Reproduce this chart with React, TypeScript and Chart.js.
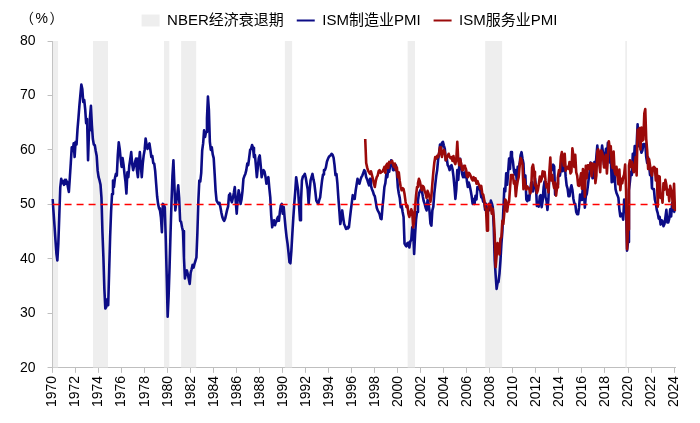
import { useEffect, useRef } from "react";
import { Chart, registerables } from "chart.js";

Chart.register(...registerables);

// ---- data -------------------------------------------------------------
// first month of the series (category axis, one category per month)
const START_YEAR = 1970;
const START_MONTH = 5;

// ISM Manufacturing PMI, monthly, from 1970-05
const ISM_MFG: number[] = [
  51.0, 48.6, 46.1, 43.5, 41.0, 39.7, 42.8, 47.9, // 1970 May-Dec
  53.1, 54.7, 53.9, 54.3, 53.6, 54.5, 53.8, 54.2, 53.2, 52.3, 54.9, 57.6, // 1971
  60.5, 59.8, 61.2, 58.7, 61.5, 61.0, 63.8, 65.9, 68.2, 70.1, 72.0, 71.2, // 1972
  68.8, 69.2, 67.5, 64.9, 65.7, 58.1, 63.6, 66.0, 68.1, 64.5, 62.0, 61.0, // 1973
  60.9, 59.8, 58.9, 56.2, 55.0, 54.4, 53.6, 51.2, 44.9, 40.3, 34.5, 30.9, // 1974
  31.2, 32.6, 31.5, 37.8, 44.0, 48.6, 51.9, 54.4, 53.2, 54.8, 55.6, 55.3, // 1975
  59.0, 61.4, 60.2, 58.3, 56.9, 58.5, 57.3, 55.6, 54.2, 52.0, 55.9, 55.0, // 1976
  57.1, 58.3, 59.6, 57.4, 56.3, 57.0, 57.8, 58.4, 56.2, 55.0, 57.5, 59.6, // 1977
  57.2, 55.0, 57.4, 59.0, 60.0, 62.1, 61.0, 60.2, 60.8, 61.2, 60.0, 58.7, // 1978
  58.9, 57.6, 57.5, 56.1, 53.8, 51.5, 50.1, 49.3, 48.9, 47.6, 44.9, 50.1, // 1979
  49.9, 49.5, 43.8, 36.9, 29.4, 33.2, 38.5, 44.7, 50.3, 55.2, 58.1, 53.6, // 1980
  48.9, 50.4, 51.8, 53.5, 51.2, 47.0, 46.8, 45.8, 45.1, 40.2, 36.4, 37.5, // 1981
  37.9, 37.2, 36.3, 35.4, 37.5, 38.1, 38.9, 38.4, 39.1, 39.7, 40.3, 44.8, // 1982
  50.6, 54.4, 54.2, 55.8, 59.9, 61.2, 63.6, 62.4, 63.3, 65.8, 69.8, 67.3, // 1983
  61.5, 60.0, 60.5, 59.2, 58.5, 55.6, 52.5, 50.7, 50.4, 50.1, 50.3, 49.5, // 1984
  48.5, 47.7, 47.2, 47.0, 47.4, 48.2, 49.0, 49.6, 51.7, 52.0, 50.9, 50.4, // 1985
  51.2, 52.1, 53.2, 50.5, 48.3, 50.9, 52.6, 51.7, 50.1, 50.9, 52.4, 54.7, // 1986
  55.2, 55.6, 56.3, 57.5, 57.2, 58.6, 60.0, 60.2, 60.9, 60.4, 58.7, 59.1, // 1987
  57.1, 55.0, 56.8, 58.5, 59.0, 57.2, 55.0, 55.8, 56.3, 56.0, 55.1, 53.8, // 1988
  54.5, 55.0, 53.0, 51.3, 47.9, 45.8, 46.5, 47.1, 46.2, 46.9, 47.3, 47.7, // 1989
  47.0, 48.6, 49.8, 50.1, 48.3, 49.5, 47.5, 45.6, 44.0, 42.8, 41.2, 39.4, // 1990
  39.2, 41.5, 44.6, 47.5, 50.1, 52.3, 55.0, 53.8, 52.6, 49.8, 47.1, 50.5, // 1991
  54.4, 55.1, 55.3, 55.6, 54.9, 53.8, 52.8, 50.1, 52.4, 54.4, 55.0, 55.6, // 1992
  54.6, 53.8, 52.3, 50.7, 50.4, 50.1, 50.8, 51.3, 52.9, 54.4, 55.5, 56.3, // 1993
  56.3, 56.8, 57.8, 58.3, 58.7, 58.9, 59.0, 59.3, 59.1, 58.6, 57.2, 55.4, // 1994
  55.6, 53.8, 51.2, 48.9, 46.4, 47.5, 48.9, 47.6, 46.4, 46.0, 45.5, 45.6, // 1995
  45.9, 45.8, 47.4, 48.9, 50.3, 51.7, 51.3, 51.0, 52.5, 53.6, 54.7, 54.1, // 1996
  53.8, 54.5, 55.0, 55.3, 55.8, 56.3, 56.0, 55.0, 54.6, 54.0, 53.5, 54.7, // 1997
  53.4, 52.8, 52.4, 51.8, 51.5, 50.5, 49.4, 48.9, 48.6, 48.2, 47.4, 47.3, // 1998
  49.5, 51.2, 53.2, 53.9, 55.6, 55.0, 56.4, 56.0, 57.2, 58.1, 57.6, 56.3, // 1999
  57.0, 56.5, 57.2, 55.8, 53.2, 52.0, 51.2, 49.5, 49.8, 48.6, 47.7, 42.8, // 2000
  42.5, 42.3, 42.9, 43.0, 42.1, 43.2, 43.5, 45.8, 45.2, 40.9, 44.5, 47.2, // 2001
  48.6, 50.7, 52.0, 52.4, 52.8, 52.6, 51.5, 50.6, 50.1, 49.4, 48.9, 50.8, // 2002
  50.2, 48.8, 46.5, 46.1, 48.9, 49.6, 52.0, 53.6, 55.2, 56.3, 58.2, 59.3, // 2003
  61.0, 60.0, 61.3, 61.5, 60.8, 60.2, 58.1, 58.5, 57.2, 56.9, 56.3, 57.0, // 2004
  57.2, 56.5, 55.2, 53.3, 51.0, 52.8, 56.3, 54.5, 57.0, 58.4, 57.2, 55.6, // 2005
  55.0, 55.8, 55.0, 56.3, 54.3, 53.2, 54.0, 53.4, 52.5, 51.5, 50.1, 51.0, // 2006
  50.1, 51.6, 50.9, 53.2, 52.8, 53.4, 52.5, 51.3, 51.3, 50.5, 50.6, 49.0, // 2007
  50.1, 48.9, 49.3, 48.9, 49.6, 50.7, 50.2, 49.5, 45.8, 39.8, 37.0, 34.5, // 2008
  35.6, 35.8, 37.3, 39.7, 42.8, 45.0, 48.9, 52.9, 52.4, 55.7, 53.6, 55.9, // 2009
  58.4, 56.5, 59.6, 58.8, 57.9, 56.2, 55.5, 56.3, 54.4, 56.9, 56.6, 57.5, // 2010
  59.0, 59.6, 58.4, 57.5, 53.5, 55.3, 50.9, 50.6, 51.6, 50.8, 52.7, 53.9, // 2011
  54.1, 52.4, 53.4, 54.8, 53.5, 49.7, 49.8, 49.6, 51.5, 51.7, 49.5, 50.7, // 2012
  53.1, 54.2, 51.3, 50.7, 49.0, 50.9, 55.4, 55.7, 56.2, 56.4, 57.3, 57.0, // 2013
  51.8, 53.2, 53.7, 54.9, 55.4, 55.3, 56.4, 57.9, 56.1, 57.9, 57.6, 55.1, // 2014
  53.5, 52.9, 51.5, 51.5, 52.8, 53.5, 52.7, 51.1, 50.2, 50.1, 48.6, 48.2, // 2015
  48.2, 49.5, 51.8, 50.8, 51.3, 53.2, 52.6, 49.4, 51.5, 51.9, 53.2, 54.7, // 2016
  56.0, 57.7, 57.2, 54.8, 54.9, 57.8, 56.3, 58.8, 60.8, 58.7, 58.2, 59.7, // 2017
  59.1, 60.8, 59.3, 57.3, 58.7, 60.2, 58.1, 61.3, 59.8, 57.7, 59.3, 54.1, // 2018
  56.6, 54.2, 55.3, 52.8, 52.1, 51.7, 51.2, 49.1, 47.8, 48.3, 48.1, 47.2, // 2019
  50.9, 50.1, 49.1, 41.5, 43.1, 52.6, 54.2, 56.0, 55.4, 59.3, 57.5, 60.7, // 2020
  58.7, 60.8, 64.7, 60.7, 61.2, 60.6, 59.5, 59.9, 61.1, 60.8, 61.1, 58.7, // 2021
  57.6, 58.6, 57.1, 55.4, 56.1, 53.0, 52.8, 52.8, 50.9, 50.2, 49.0, 48.4, // 2022
  47.4, 47.7, 46.3, 47.1, 46.9, 46.0, 46.4, 47.6, 49.0, 46.7, 46.7, 47.4, // 2023
  49.1, 47.8, 50.3, 49.2, 48.7, 48.5, // 2024 Jan-Jun
];

// ISM Services PMI, monthly, from 1997-07
const SVC_START = "1997-07";
const ISM_SVC: number[] = [
  62.0, 57.6, 56.8, 56.2, 55.9, 55.6, // 1997 Jul-Dec
  56.1, 55.4, 54.7, 53.9, 53.2, 54.3, 55.0, 55.3, 56.1, 56.3, 55.8, 56.0, // 1998
  56.0, 56.4, 56.9, 55.8, 57.2, 57.5, 56.7, 57.8, 57.6, 57.8, 58.0, 57.4, // 1999
  56.9, 57.5, 56.3, 56.8, 55.0, 55.9, 54.3, 53.2, 52.6, 53.0, 52.8, 51.9, // 2000
  50.6, 49.5, 49.8, 48.3, 47.7, 48.4, 49.1, 48.6, 45.8, 46.9, 49.5, 51.6, // 2001
  53.2, 53.9, 54.7, 54.2, 53.3, 52.6, 53.4, 53.2, 52.4, 52.0, 51.2, 52.5, // 2002
  52.0, 51.3, 50.5, 51.6, 53.8, 55.9, 57.6, 58.7, 58.4, 58.9, 58.7, 59.5, // 2003
  60.5, 59.4, 58.7, 59.6, 60.0, 59.6, 58.1, 58.6, 58.9, 59.3, 58.7, 58.5, // 2004
  58.7, 58.0, 58.9, 57.8, 57.4, 58.4, 61.5, 58.1, 57.2, 58.3, 57.5, 56.3, // 2005
  56.3, 57.1, 56.9, 56.5, 55.2, 55.0, 55.8, 55.6, 55.2, 54.7, 54.4, 55.0, // 2006
  54.4, 54.8, 53.8, 54.3, 53.8, 53.5, 52.9, 53.4, 52.0, 51.8, 50.9, 49.5, // 2007
  49.0, 45.2, 48.6, 50.1, 49.8, 49.5, 48.3, 49.2, 47.6, 44.4, 38.5, 40.6, // 2008
  42.9, 41.6, 40.8, 43.7, 44.0, 47.0, 46.4, 48.4, 50.9, 50.6, 48.7, 50.1, // 2009
  50.5, 53.0, 55.4, 55.4, 55.4, 53.8, 54.3, 51.5, 53.2, 54.3, 55.0, 57.1, // 2010
  58.5, 58.1, 57.3, 52.8, 54.6, 53.3, 52.7, 53.3, 53.0, 52.9, 52.0, 52.6, // 2011
  56.8, 57.3, 56.0, 53.5, 53.7, 52.1, 52.6, 53.7, 55.1, 54.2, 54.7, 56.1, // 2012
  55.2, 56.0, 54.4, 53.1, 53.7, 52.2, 56.0, 58.6, 54.4, 55.4, 53.9, 53.0, // 2013
  54.0, 51.6, 53.1, 55.2, 56.3, 56.0, 58.7, 59.6, 58.6, 57.1, 59.3, 56.2, // 2014
  56.7, 56.9, 56.5, 57.8, 55.7, 56.0, 60.3, 59.0, 56.9, 59.1, 55.9, 55.3, // 2015
  53.5, 53.4, 54.5, 55.7, 52.9, 56.5, 55.5, 51.4, 57.1, 54.8, 57.2, 57.2, // 2016
  56.5, 57.6, 55.2, 57.5, 56.9, 57.4, 53.9, 55.3, 59.8, 60.1, 57.4, 55.9, // 2017
  59.9, 59.5, 58.8, 56.8, 58.6, 59.1, 55.7, 58.5, 61.6, 60.3, 60.7, 57.6, // 2018
  56.7, 59.7, 56.1, 55.5, 56.9, 55.1, 53.7, 56.4, 52.6, 54.7, 53.9, 55.0, // 2019
  55.5, 57.3, 52.5, 41.8, 45.4, 57.1, 58.1, 56.9, 57.8, 56.6, 55.9, 57.2, // 2020
  58.7, 55.3, 63.7, 62.7, 64.0, 60.1, 64.1, 61.7, 61.9, 66.7, 67.5, 62.0, // 2021
  59.9, 56.5, 58.3, 57.1, 55.9, 55.3, 56.7, 56.9, 56.7, 54.4, 56.5, 49.6, // 2022
  55.2, 55.1, 51.2, 51.9, 50.3, 53.9, 52.7, 54.5, 53.6, 51.8, 52.7, 50.6, // 2023
  53.4, 52.6, 51.4, 49.4, 53.8, 48.8, // 2024 Jan-Jun
];

// NBER recessions (first month, last month)
const RECESSIONS: [string, string][] = [
  ["1969-12", "1970-11"],
  ["1973-11", "1975-03"],
  ["1980-01", "1980-07"],
  ["1981-07", "1982-11"],
  ["1990-07", "1991-03"],
  ["2001-03", "2001-11"],
  ["2007-12", "2009-06"],
  ["2020-02", "2020-04"],
];

const Y_MIN = 20;
const Y_MAX = 80;
const Y_STEP = 10;
const THRESHOLD = 50;
const LABEL_EVERY = 24; // one year label every 24 months

const SERIES_NAMES = ["NBER经济衰退期", "ISM制造业PMI", "ISM服务业PMI"];
const UNIT_LABEL = "（%）";

// ---- derived ----------------------------------------------------------
const MONTH_LABELS: string[] = ISM_MFG.map((_, i) => {
  const m = START_MONTH - 1 + i;
  const y = START_YEAR + Math.floor(m / 12);
  const mm = (m % 12) + 1;
  return `${y}-${String(mm).padStart(2, "0")}`;
});

const FONT = "'Liberation Sans', Arial, 'Noto Sans CJK SC', sans-serif";
const LEGEND_EXTRA = 3;
const LEGEND_SHIFT = 8;

export default function App() {
  const ref = useRef<HTMLCanvasElement | null>(null);

  useEffect(() => {
    document.body.style.margin = "0";
    const canvas = ref.current;
    if (!canvas) return;

    const svcOffset = MONTH_LABELS.indexOf(SVC_START);
    const svcData = MONTH_LABELS.map((_, i) =>
      i >= svcOffset && i - svcOffset < ISM_SVC.length ? ISM_SVC[i - svcOffset] : null
    );
    const recData = MONTH_LABELS.map((l) =>
      RECESSIONS.some(([s, e]) => l >= s && l <= e) ? Y_MAX : null
    );
    const last = MONTH_LABELS.length - 1;
    const refData = MONTH_LABELS.map((_, i) => (i === 0 || i === last ? THRESHOLD : null));

    const unitPlugin = {
      id: "unitLabel",
      beforeInit(chart: any) {
        const leg = chart.legend;
        if (leg && !leg.__patched) {
          const orig = leg.fit;
          leg.fit = function (this: any) {
            orig.call(this);
            this.height += LEGEND_EXTRA;
          };
          leg.__patched = true;
        }
      },
      afterLayout(chart: any) {
        const leg = chart.legend;
        if (leg) {
          leg.left += LEGEND_SHIFT;
          leg.right += LEGEND_SHIFT;
        }
      },
      afterDraw(chart: any) {
        const { ctx } = chart;
        ctx.save();
        ctx.font = `14px ${FONT}`;
        ctx.fillStyle = "#000";
        ctx.textBaseline = "middle";
        ctx.textAlign = "left";
        try {
          (ctx as any).letterSpacing = "1.5px";
        } catch (e) {
          /* ignore */
        }
        ctx.fillText(UNIT_LABEL, 20, 19);
        ctx.restore();
      },
    };

    const chart = new Chart(canvas, {
      type: "line",
      data: {
        labels: MONTH_LABELS,
        datasets: [
          {
            label: SERIES_NAMES[0],
            data: recData,
            order: 2,
            borderWidth: 0,
            borderColor: "rgba(0,0,0,0)",
            backgroundColor: "#eeeeee",
            fill: "start",
            pointRadius: 0,
            pointStyle: "rect",
            pointBackgroundColor: "#eeeeee",
            pointBorderWidth: 0,
            spanGaps: false,
          } as any,
          {
            label: SERIES_NAMES[1],
            data: ISM_MFG,
            order: 1,
            borderColor: "#0c0c86",
            backgroundColor: "#0c0c86",
            borderWidth: 2.6,
            pointRadius: 0,
            pointStyle: "line",
            pointBorderColor: "#0c0c86",
            pointBorderWidth: 2,
            tension: 0,
            borderJoinStyle: "round",
          } as any,
          {
            label: SERIES_NAMES[2],
            data: svcData,
            order: 0,
            borderColor: "#9b0a0a",
            backgroundColor: "#9b0a0a",
            borderWidth: 2.6,
            pointRadius: 0,
            pointStyle: "line",
            pointBorderColor: "#9b0a0a",
            pointBorderWidth: 2,
            tension: 0,
            borderJoinStyle: "round",
          } as any,
          {
            label: "50",
            data: refData,
            order: -1,
            borderColor: "#ff0000",
            borderWidth: 1.5,
            borderDash: [7, 5],
            pointRadius: 0,
            spanGaps: true,
          } as any,
        ],
      },
      options: {
        responsive: false,
        animation: false,
        events: [],
        layout: { padding: { top: 0, left: 8, right: 25, bottom: 13 } },
        plugins: {
          tooltip: { enabled: false },
          legend: {
            position: "top",
            align: "center",
            labels: {
              usePointStyle: true,
              pointStyleWidth: 18,
              boxHeight: 12,
              padding: 13,
              color: "#000",
              font: { size: 15, family: FONT },
              filter: (item: any) => item.datasetIndex !== 3,
              sort: (a: any, b: any) => a.datasetIndex - b.datasetIndex,
            },
          },
        },
        scales: {
          x: {
            type: "category",
            afterBuildTicks: (axis: any) => {
              axis.ticks = axis.ticks.filter((t: any) => t.value % LABEL_EVERY === 0);
            },
            grid: {
              display: true,
              drawOnChartArea: false,
              drawTicks: true,
              tickLength: 5,
              color: "#bfbfbf",
            },
            border: { display: true, color: "#bfbfbf" },
            ticks: {
              autoSkip: false,
              minRotation: 90,
              maxRotation: 90,
              padding: 3,
              color: "#000",
              font: { size: 14, family: FONT },
              callback: function (this: any, value: any) {
                return String(this.getLabelForValue(value)).slice(0, 4);
              },
            },
          },
          y: {
            min: Y_MIN,
            max: Y_MAX,
            ticks: {
              stepSize: Y_STEP,
              padding: 12,
              color: "#000",
              font: { size: 14, family: FONT },
            },
            grid: {
              display: true,
              drawOnChartArea: false,
              drawTicks: true,
              tickLength: 5,
              color: "#bfbfbf",
            },
            border: { display: true, color: "#bfbfbf" },
          },
        },
      },
      plugins: [unitPlugin],
    });

    return () => chart.destroy();
  }, []);

  return (
    <div style={{ width: 700, height: 423 }}>
      <canvas ref={ref} width={700} height={423} />
    </div>
  );
}
